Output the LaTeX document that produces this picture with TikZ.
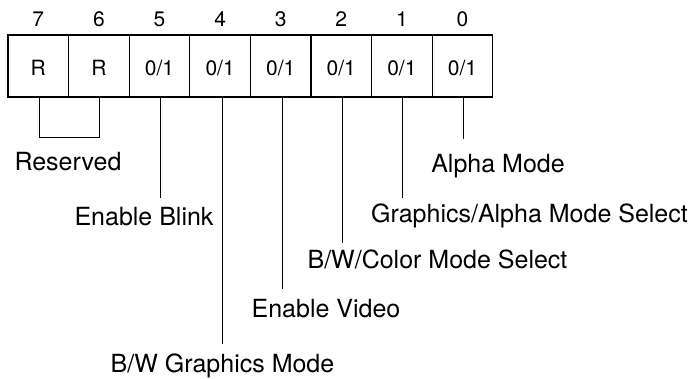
\documentclass[tikz,border=0pt]{standalone}
\usepackage{fontspec}
\setmainfont{TeX Gyre Heros}
\newcommand{\cellfont}{\fontsize{21}{25}\selectfont}
\newcommand{\labfont}{\fontsize{25}{30}\selectfont}
\begin{document}
\begin{tikzpicture}[x=1pt,y=-1pt,
  cell/.style={draw, line width=1.2pt, minimum width=60.6pt, minimum height=62pt, inner sep=0pt},
  bitnum/.style={anchor=base, inner sep=0pt, font=\cellfont},
  lab/.style={anchor=base, inner sep=0pt, font=\labfont},
  conn/.style={line width=1pt}]
\useasboundingbox (0,0) rectangle (692,378);
\foreach \b/\t [count=\j from 0] in {7/R,6/R,5/0\slash 1,4/0\slash 1,3/0\slash 1,2/0\slash 1,1/0\slash 1,0/0\slash 1}{
  \node[cell] (c\b) at ({38.3+60.6*\j},66) {};
  \node[bitnum] (v\b) at ({38.3+60.6*\j},75) {\t};
  \node[bitnum] (n\b) at ({38.3+60.6*\j},26) {\b};
}
% end points of connectors
\path (c7.south) ++(1,40) coordinate (e7);
\path (c6.south) ++(1,40) coordinate (e6);
\path (c5.south) ++(1,100) coordinate (e5);
\path (c4.south) ++(2.5,246) coordinate (e4);
\path (c3.south) ++(2,191) coordinate (e3);
\path (c2.south) ++(1.5,145) coordinate (e2);
\path (c1.south) ++(1,100) coordinate (e1);
\path (c0.south) ++(0.5,41) coordinate (e0);
\draw[conn] (c7.south -| e7) -- (e7) -- (e6) -- (c6.south -| e6);
\draw[conn] (c5.south -| e5) -- (e5);
\draw[conn] (c4.south -| e4) -- (e4);
\draw[conn] (c3.south -| e3) -- (e3);
\draw[conn] (c2.south -| e2) -- (e2);
\draw[conn] (c1.south -| e1) -- (e1);
\draw[conn] (c0.south -| e0) -- (e0);
% labels
\node[lab] (lres) at (68,170) {Reserved};
\node[lab] (l5) at (144,225) {Enable Blink};
\node[lab] (l4) at (222.5,372) {B/W Graphics Mode};
\node[lab] (l3) at (326,317) {Enable Video};
\node[lab] (l2) at (437.5,268) {B/W/Color Mode Select};
\node[lab] (l1) at (529.5,222) {Graphics/Alpha Mode Select};
\node[lab] (l0) at (498,172) {Alpha Mode};
\end{tikzpicture}
\end{document}
